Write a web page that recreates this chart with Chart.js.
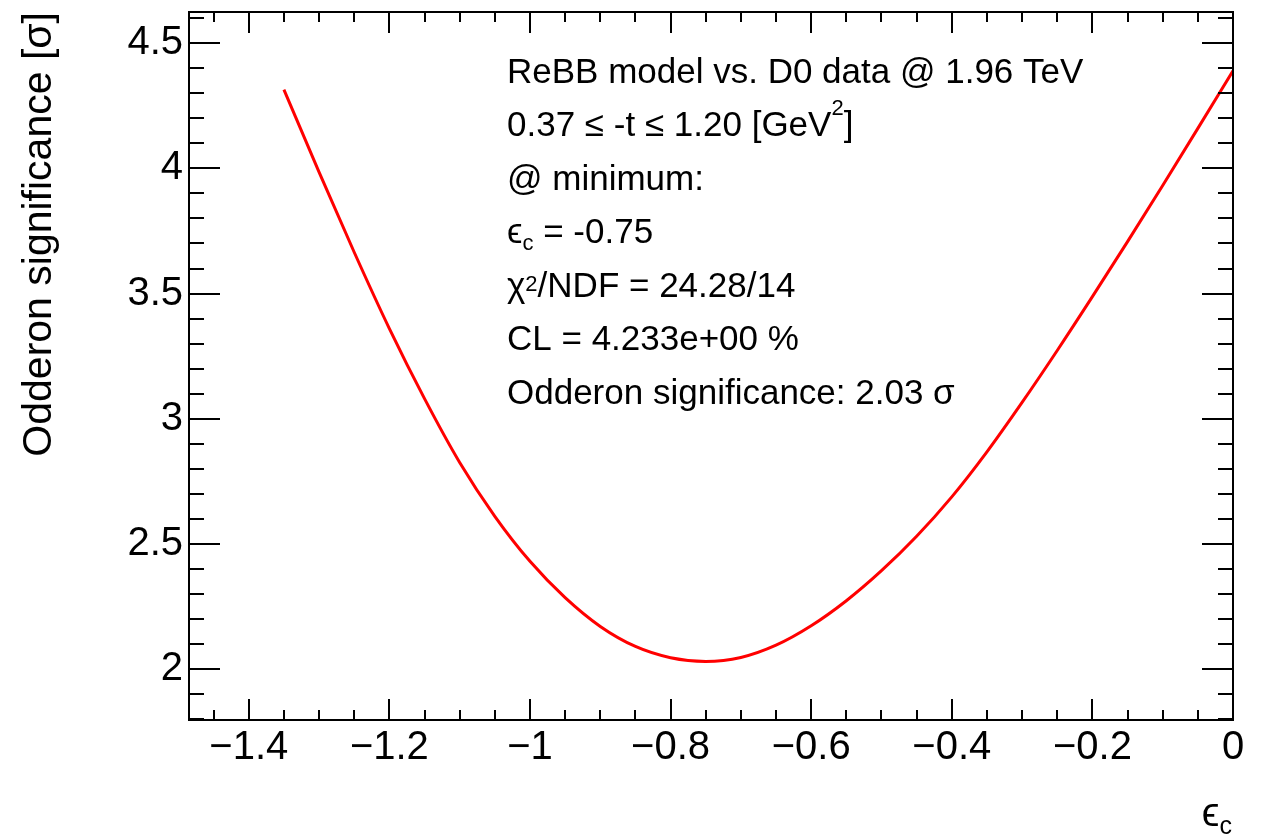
<!DOCTYPE html>
<html>
<head>
<meta charset="utf-8">
<script src="https://cdn.jsdelivr.net/npm/chart.js@4/dist/chart.umd.min.js"></script>
<style>
html,body{margin:0;padding:0;background:#fff;}
#wrap{width:1261px;height:839px;position:relative;}
</style>
</head>
<body>
<div id="wrap"><canvas id="c" width="1261" height="839"></canvas></div>
<script>
// ---- data ----
const epsilonC = [-1.35,-1.30,-1.25,-1.20,-1.15,-1.10,-1.05,-1.00,-0.95,-0.90,-0.85,-0.80,-0.75,-0.70,
                  -0.65,-0.60,-0.55,-0.50,-0.45,-0.40,-0.35,-0.30,-0.25,-0.20,-0.15,-0.10,-0.05,0.00];
const significance = [4.315,3.985,3.665,3.36,3.08,2.825,2.61,2.43,2.285,2.17,2.09,2.045,2.03,2.046,
                      2.095,2.1725,2.2725,2.3925,2.53,2.6875,2.8675,3.065,3.2725,3.4875,3.7075,3.932,4.16,4.39];
const xTickValues = [-1.4,-1.2,-1,-0.8,-0.6,-0.4,-0.2,0];
const yTickValues = [2,2.5,3,3.5,4,4.5];
const xAxisTitle = "ϵ_{c}";
const yAxisTitle = "Odderon significance [σ]";
const annotationLines = [
  "ReBB model vs. D0 data @ 1.96 TeV",
  "0.37 ≤ -t ≤ 1.20 [GeV^{2}]",
  "@ minimum:",
  "ϵ_{c} = -0.75",
  "χ^{2}/NDF = 24.28/14",
  "CL = 4.233e+00 %",
  "Odderon significance: 2.03 σ"
];

// ---- helpers ----
const FAMILY = "'Liberation Sans', Arial, 'DejaVu Sans', sans-serif";
function fmtTick(v){
  const r = Math.round(v*10)/10;
  return String(r).replace('-', '\u2212');
}
function parseRich(text){
  const segs=[]; let cur=''; let i=0;
  while(i<text.length){
    const ch=text[i];
    if((ch==='^'||ch==='_') && text[i+1]==='{'){
      if(cur){segs.push({t:cur,k:'n'});cur='';}
      const end=text.indexOf('}',i+2);
      segs.push({t:text.slice(i+2,end),k:ch==='^'?'sup':'sub'});
      i=end+1; continue;
    }
    cur+=ch; i++;
  }
  if(cur) segs.push({t:cur,k:'n'});
  return segs;
}
function drawRich(ctx,text,x,y,size,align){
  const segs=parseRich(text);
  const small=Math.round(size*0.62);
  let total=0;
  segs.forEach(s=>{
    ctx.font=(s.k==='n'?size:small)+'px '+FAMILY;
    s.w=ctx.measureText(s.t).width; total+=s.w;
  });
  let cx = align==='right' ? x-total : x;
  let prev='';
  segs.forEach(s=>{
    ctx.font=(s.k==='n'?size:small)+'px '+FAMILY;
    let dy=0;
    if(s.k==='sup'){ dy = /[A-Z]/.test(prev) ? -0.6*size : -0.18*size; }
    else if(s.k==='sub'){ dy = 0.2*size; }
    ctx.fillText(s.t,cx,y+dy);
    cx+=s.w;
    prev = s.t.slice(-1);
  });
}

const rootFrame = {
  id:'rootFrame',
  afterDraw(chart){
    const {ctx, chartArea:a, scales:{x,y}} = chart;
    ctx.save();
    ctx.strokeStyle='#000';
    ctx.lineWidth=2;
    ctx.lineCap='butt';
    ctx.strokeRect(a.left,a.top,a.right-a.left,a.bottom-a.top);
    ctx.beginPath();
    const xStep=0.05;
    for(let k=Math.ceil(x.min/xStep-1e-6); k*xStep<=x.max+1e-9; k++){
      const v=k*xStep;
      const major=Math.abs(Math.round(v*5)-v*5)<1e-6;
      const len=major?21:10;
      const px=Math.round(x.getPixelForValue(v));
      if(px<a.left+1||px>a.right-1) continue;
      ctx.moveTo(px,a.bottom); ctx.lineTo(px,a.bottom-len);
      ctx.moveTo(px,a.top); ctx.lineTo(px,a.top+len);
    }
    const yStep=0.1;
    for(let k=Math.ceil(y.min/yStep-1e-6); k*yStep<=y.max+1e-9; k++){
      const v=k*yStep;
      const major=Math.abs(Math.round(v*2)-v*2)<1e-6;
      const len=major?31:15;
      const py=Math.round(y.getPixelForValue(v));
      if(py<a.top+1||py>a.bottom-1) continue;
      ctx.moveTo(a.left,py); ctx.lineTo(a.left+len,py);
      ctx.moveTo(a.right,py); ctx.lineTo(a.right-len,py);
    }
    ctx.stroke();
    ctx.fillStyle='#000';
    ctx.textBaseline='alphabetic';
    ctx.textAlign='left';
    annotationLines.forEach((line,i)=>{
      drawRich(ctx,line,507,83+53.45*i,35,'left');
    });
    drawRich(ctx,xAxisTitle,1232,826,40,'right');
    ctx.restore();
  }
};

const chart = new Chart(document.getElementById('c'),{
  type:'line',
  data:{
    datasets:[{
      data: epsilonC.map((e,i)=>({x:e,y:significance[i]})),
      borderColor:'#ff0000',
      borderWidth:3,
      pointRadius:0,
      fill:false,
      cubicInterpolationMode:'monotone'
    }]
  },
  options:{
    responsive:false,
    animation:false,
    devicePixelRatio:1,
    layout:{padding:{left:0,top:12,right:28,bottom:0}},
    plugins:{legend:{display:false},tooltip:{enabled:false}},
    scales:{
      x:{
        type:'linear',
        min:-1.485, max:0,
        grid:{display:false,drawTicks:false,tickLength:0},
        border:{display:false},
        afterBuildTicks(s){ s.ticks = xTickValues.map(v=>({value:v})); },
        afterFit(s){ s.height=119; s.paddingLeft=0; s.paddingRight=0; },
        ticks:{
          padding:4,
          color:'#000',
          font:{family:FAMILY,size:40},
          maxRotation:0,
          autoSkip:false,
          callback:(v)=>fmtTick(v)
        }
      },
      y:{
        type:'linear',
        min:1.796, max:4.625,
        grid:{display:false,drawTicks:false,tickLength:0},
        border:{display:false},
        afterBuildTicks(s){ s.ticks = yTickValues.map(v=>({value:v})); },
        afterFit(s){ s.width=189; s.paddingTop=0; s.paddingBottom=0; },
        ticks:{
          padding:6,
          color:'#000',
          font:{family:FAMILY,size:40},
          autoSkip:false,
          callback:(v)=>fmtTick(v)
        },
        title:{
          display:true,
          text:yAxisTitle,
          align:'end',
          color:'#000',
          font:{family:FAMILY,size:41},
          padding:{top:15,bottom:0}
        }
      }
    }
  },
  plugins:[rootFrame]
});
</script>
</body>
</html>
